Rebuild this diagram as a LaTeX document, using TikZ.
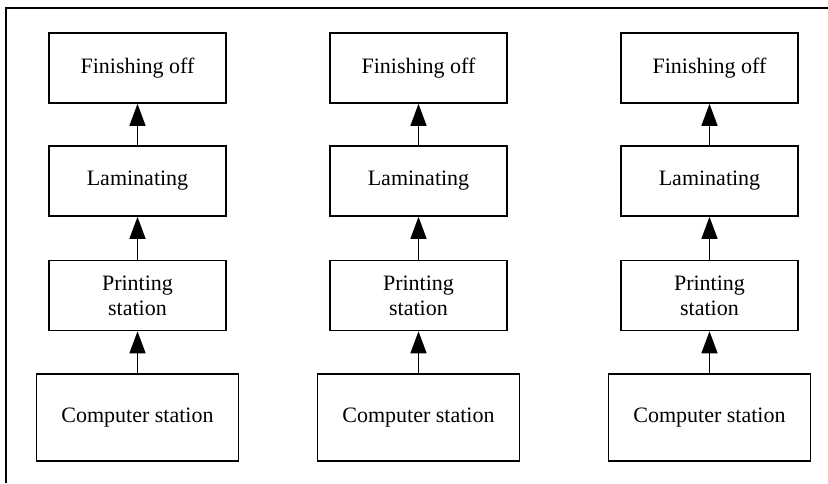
\documentclass[tikz,border=0pt]{standalone}
\usepackage{fontspec}
\setmainfont{Liberation Serif}
\usetikzlibrary{arrows.meta}
\begin{document}
\begin{tikzpicture}[x=1pt,y=-1pt,
  box/.style={draw,line width=1.6pt,minimum width=177pt,minimum height=70pt,inner sep=0pt,align=center,font=\fontsize{22}{25}\selectfont},
  bigbox/.style={box,minimum width=202pt,minimum height=87pt},
  flow/.style={line width=1.4pt,-{Triangle[length=22pt,width=16pt]}}]
\useasboundingbox (0,0) rectangle (828,483);
\draw[line width=1.8pt] (6,483) -- (6,8) -- (830,8);
\foreach \c/\x in {a/137.5,b/418.5,c/709.5}{
  \node[box] (fin\c) at (\x,68) {Finishing off};
  \node[box] (lam\c) at (\x,181) {Laminating};
  \node[box] (pri\c) at (\x,295.5) {Printing\\station};
  \node[bigbox] (com\c) at (\x,417.5) {Computer station};
  \draw[flow] (com\c) -- (pri\c);
  \draw[flow] (pri\c) -- (lam\c);
  \draw[flow] (lam\c) -- (fin\c);
}
\end{tikzpicture}
\end{document}
